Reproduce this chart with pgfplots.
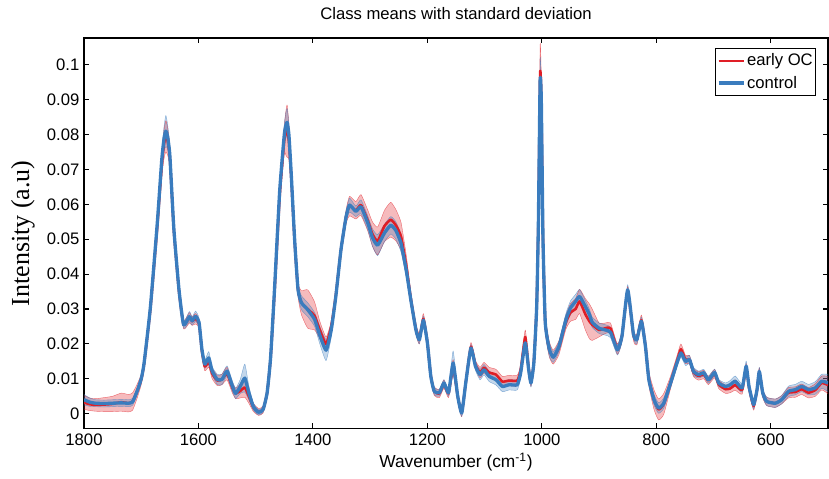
\documentclass[border=0pt]{standalone}
\usepackage{fontspec}
\setmainfont{Liberation Sans}
\newfontfamily\timesfont{Liberation Serif}
\usepackage{pgfplots}
\pgfplotsset{compat=1.18}
\usepackage{pgfplotstable}
\usepgfplotslibrary{fillbetween}

\definecolor{ocred}{RGB}{224,30,38}
\definecolor{ctrlblue}{RGB}{58,124,190}

% w = wavenumber, bm/bs = control mean/sd, rm/rs = early OC mean/sd
\pgfplotstableread{
w bm bs rm rs
1800 0.0040 0.0015 0.0032 0.0020
1790 0.0033 0.0012 0.0027 0.0018
1780 0.0030 0.0010 0.0025 0.0018
1765 0.0029 0.0010 0.0026 0.0020
1750 0.0030 0.0010 0.0028 0.0022
1735 0.0031 0.0010 0.0033 0.0026
1722 0.0030 0.0010 0.0030 0.0025
1715 0.0034 0.0010 0.0035 0.0025
1707 0.0065 0.0010 0.0065 0.0020
1700 0.0100 0.0010 0.0098 0.0015
1695 0.0145 0.0010 0.0142 0.0012
1684 0.0305 0.0010 0.0300 0.0012
1672 0.0545 0.0015 0.0535 0.0020
1664 0.0730 0.0025 0.0715 0.0035
1660 0.0790 0.0035 0.0775 0.0042
1657 0.0810 0.0045 0.0795 0.0045
1654 0.0795 0.0035 0.0782 0.0040
1650 0.0740 0.0025 0.0735 0.0030
1643 0.0530 0.0012 0.0525 0.0015
1634 0.0355 0.0010 0.0350 0.0012
1626 0.0255 0.0010 0.0255 0.0012
1616 0.0278 0.0015 0.0275 0.0015
1611 0.0266 0.0012 0.0265 0.0012
1605 0.0279 0.0015 0.0272 0.0015
1599 0.0262 0.0012 0.0258 0.0012
1594 0.0185 0.0012 0.0180 0.0012
1589 0.0142 0.0012 0.0135 0.0012
1582 0.0160 0.0018 0.0148 0.0015
1576 0.0122 0.0012 0.0115 0.0015
1567 0.0098 0.0015 0.0095 0.0015
1559 0.0098 0.0015 0.0098 0.0015
1550 0.0122 0.0015 0.0115 0.0018
1541 0.0080 0.0015 0.0075 0.0015
1535 0.0058 0.0015 0.0058 0.0015
1527 0.0078 0.0020 0.0065 0.0020
1519 0.0102 0.0040 0.0075 0.0028
1512 0.0060 0.0020 0.0050 0.0020
1504 0.0020 0.0010 0.0018 0.0012
1495 0.0004 0.0008 0.0005 0.0010
1487 0.0012 0.0008 0.0012 0.0010
1480 0.0060 0.0008 0.0060 0.0010
1474 0.0160 0.0010 0.0158 0.0010
1467 0.0360 0.0010 0.0350 0.0010
1458 0.0640 0.0015 0.0625 0.0020
1450 0.0800 0.0030 0.0785 0.0040
1447 0.0828 0.0038 0.0805 0.0065
1445 0.0835 0.0040 0.0810 0.0075
1442 0.0800 0.0032 0.0780 0.0050
1438 0.0690 0.0020 0.0680 0.0025
1432 0.0500 0.0012 0.0495 0.0015
1426 0.0355 0.0015 0.0355 0.0020
1420 0.0318 0.0020 0.0318 0.0035
1409 0.0298 0.0020 0.0300 0.0055
1397 0.0270 0.0020 0.0280 0.0040
1388 0.0225 0.0025 0.0240 0.0025
1377 0.0182 0.0030 0.0200 0.0020
1368 0.0240 0.0020 0.0250 0.0015
1360 0.0336 0.0012 0.0340 0.0012
1351 0.0470 0.0012 0.0470 0.0015
1342 0.0565 0.0015 0.0565 0.0020
1336 0.0598 0.0020 0.0595 0.0028
1325 0.0580 0.0015 0.0583 0.0025
1316 0.0593 0.0020 0.0598 0.0030
1304 0.0546 0.0020 0.0553 0.0030
1296 0.0505 0.0025 0.0515 0.0035
1287 0.0483 0.0030 0.0495 0.0040
1275 0.0518 0.0025 0.0538 0.0045
1264 0.0540 0.0025 0.0556 0.0050
1255 0.0525 0.0025 0.0540 0.0045
1246 0.0488 0.0025 0.0508 0.0040
1237 0.0412 0.0020 0.0425 0.0030
1229 0.0327 0.0015 0.0330 0.0020
1220 0.0240 0.0012 0.0242 0.0015
1214 0.0212 0.0012 0.0215 0.0015
1207 0.0268 0.0012 0.0272 0.0015
1200 0.0203 0.0012 0.0205 0.0012
1194 0.0107 0.0010 0.0108 0.0012
1188 0.0064 0.0010 0.0064 0.0012
1179 0.0060 0.0010 0.0058 0.0012
1171 0.0088 0.0010 0.0085 0.0012
1163 0.0060 0.0010 0.0058 0.0012
1155 0.0145 0.0035 0.0135 0.0020
1147 0.0050 0.0010 0.0050 0.0012
1140 0.0002 0.0010 0.0003 0.0012
1133 0.0088 0.0010 0.0088 0.0010
1124 0.0188 0.0010 0.0192 0.0012
1116 0.0136 0.0012 0.0140 0.0012
1108 0.0112 0.0015 0.0118 0.0015
1101 0.0126 0.0015 0.0132 0.0015
1092 0.0107 0.0015 0.0118 0.0015
1080 0.0097 0.0015 0.0112 0.0015
1069 0.0078 0.0015 0.0092 0.0015
1057 0.0083 0.0015 0.0095 0.0015
1043 0.0083 0.0015 0.0095 0.0015
1037 0.0117 0.0015 0.0125 0.0015
1029 0.0203 0.0015 0.0220 0.0020
1023 0.0126 0.0015 0.0130 0.0015
1019 0.0088 0.0012 0.0090 0.0012
1014 0.0145 0.0012 0.0148 0.0012
1009 0.0307 0.0012 0.0310 0.0012
1006 0.0550 0.0020 0.0560 0.0030
1003 0.0955 0.0060 0.0975 0.0080
1001 0.0900 0.0030 0.0910 0.0050
998 0.0500 0.0020 0.0500 0.0025
994 0.0260 0.0020 0.0260 0.0025
987 0.0185 0.0020 0.0185 0.0022
980 0.0162 0.0015 0.0162 0.0020
970 0.0193 0.0015 0.0190 0.0020
958 0.0269 0.0018 0.0262 0.0020
950 0.0303 0.0020 0.0290 0.0025
941 0.0322 0.0020 0.0300 0.0030
934 0.0336 0.0020 0.0322 0.0035
924 0.0307 0.0018 0.0285 0.0045
917 0.0285 0.0015 0.0265 0.0050
912 0.0262 0.0015 0.0255 0.0045
900 0.0245 0.0015 0.0240 0.0020
889 0.0240 0.0015 0.0245 0.0015
880 0.0233 0.0015 0.0245 0.0015
868 0.0183 0.0015 0.0185 0.0015
860 0.0222 0.0015 0.0222 0.0015
850 0.0355 0.0015 0.0350 0.0015
840 0.0228 0.0012 0.0225 0.0015
834 0.0212 0.0012 0.0212 0.0015
826 0.0265 0.0012 0.0268 0.0015
819 0.0193 0.0012 0.0195 0.0015
813 0.0097 0.0012 0.0100 0.0020
804 0.0040 0.0015 0.0040 0.0028
796 0.0016 0.0015 0.0012 0.0030
787 0.0030 0.0015 0.0028 0.0030
775 0.0088 0.0012 0.0090 0.0018
764 0.0145 0.0012 0.0150 0.0015
757 0.0174 0.0012 0.0185 0.0015
749 0.0150 0.0012 0.0155 0.0012
742 0.0155 0.0012 0.0155 0.0012
735 0.0121 0.0012 0.0118 0.0012
726 0.0112 0.0010 0.0108 0.0012
717 0.0117 0.0010 0.0112 0.0012
709 0.0097 0.0010 0.0095 0.0012
698 0.0118 0.0010 0.0115 0.0012
691 0.0088 0.0010 0.0084 0.0012
679 0.0078 0.0010 0.0070 0.0012
671 0.0083 0.0012 0.0072 0.0012
662 0.0093 0.0015 0.0082 0.0015
650 0.0074 0.0012 0.0068 0.0012
643 0.0136 0.0015 0.0132 0.0012
638 0.0078 0.0012 0.0075 0.0012
630 0.0026 0.0012 0.0022 0.0012
624 0.0069 0.0012 0.0068 0.0012
620 0.0121 0.0012 0.0120 0.0012
614 0.0059 0.0012 0.0058 0.0012
607 0.0035 0.0012 0.0035 0.0012
592 0.0030 0.0012 0.0030 0.0012
581 0.0040 0.0012 0.0040 0.0012
569 0.0064 0.0015 0.0060 0.0015
557 0.0069 0.0015 0.0062 0.0015
546 0.0078 0.0015 0.0070 0.0015
534 0.0069 0.0015 0.0060 0.0015
522 0.0074 0.0018 0.0068 0.0018
511 0.0093 0.0020 0.0088 0.0020
500 0.0088 0.0025 0.0082 0.0025
}\spectra

\begin{document}
\begin{tikzpicture}
\begin{axis}[
  scale only axis,
  width=558pt, height=293pt,
  x dir=reverse,
  xmin=500, xmax=1800,
  ymin=-0.0043, ymax=0.1077,
  xtick={600,800,...,1800},
  ytick={0,0.01,...,0.1},
  scaled y ticks=false,
  xticklabel style={/pgf/number format/set thousands separator={}},
  yticklabel style={/pgf/number format/fixed, /pgf/number format/precision=2},
  /pgf/number format/assume math mode=true,
  tick label style={font=\fontsize{12.5}{14}\selectfont},
  major tick length=4pt,
  tick style={black, line width=0.8pt},
  axis line style={line width=1pt},
  every axis plot/.append style={line join=round},
  title={Class means with standard deviation},
  title style={font=\fontsize{12.5}{14}\selectfont, at={(0.5,1)}, anchor=south, yshift=4pt},
  xlabel={Wavenumber (cm\textsuperscript{-1})},
  xlabel style={font=\fontsize{13}{15}\selectfont, yshift=1pt},
  ylabel={\timesfont Intensity (a.u)},
  ylabel style={font=\fontsize{19.5}{21}\selectfont, at={(axis description cs:-0.082,0.5)}, anchor=center},
  legend style={at={(1,1)}, anchor=north east, xshift=-9pt, yshift=-7.5pt,
    draw=black, line width=0.8pt, inner xsep=1pt, inner ysep=3pt,
    font=\fontsize{12.5}{14}\selectfont,
    nodes={inner sep=1pt}, row sep=4pt},
  legend cell align=left,
  legend image code/.code={\draw[#1] (0pt,0pt) -- (19pt,0pt);},
]
% early OC band
\addplot[name path=rhi, smooth, tension=0.3, ocred, line width=0.3pt, draw opacity=0.6, forget plot]
  table[x=w, y expr=\thisrow{rm}+\thisrow{rs}] {\spectra};
\addplot[name path=rlo, smooth, tension=0.3, ocred, line width=0.3pt, draw opacity=0.6, forget plot]
  table[x=w, y expr=\thisrow{rm}-\thisrow{rs}] {\spectra};
\addplot[ocred, fill opacity=0.3, forget plot] fill between[of=rhi and rlo];
% control band
\addplot[name path=bhi, smooth, tension=0.3, ctrlblue, line width=0.3pt, draw opacity=0.6, forget plot]
  table[x=w, y expr=\thisrow{bm}+\thisrow{bs}] {\spectra};
\addplot[name path=blo, smooth, tension=0.3, ctrlblue, line width=0.3pt, draw opacity=0.6, forget plot]
  table[x=w, y expr=\thisrow{bm}-\thisrow{bs}] {\spectra};
\addplot[ctrlblue, fill opacity=0.3, forget plot] fill between[of=bhi and blo];
% means
\addplot[ocred, smooth, tension=0.3, line width=1.9pt] table[x=w, y=rm] {\spectra};
\addlegendentry{early OC}
\addplot[ctrlblue, smooth, tension=0.3, line width=2.5pt] table[x=w, y=bm] {\spectra};
\addlegendentry{control}
\end{axis}
\pgfresetboundingbox
\path[use as bounding box] (-63pt,-37.5pt) rectangle (558.75pt,321.5pt);
\end{tikzpicture}
\end{document}
